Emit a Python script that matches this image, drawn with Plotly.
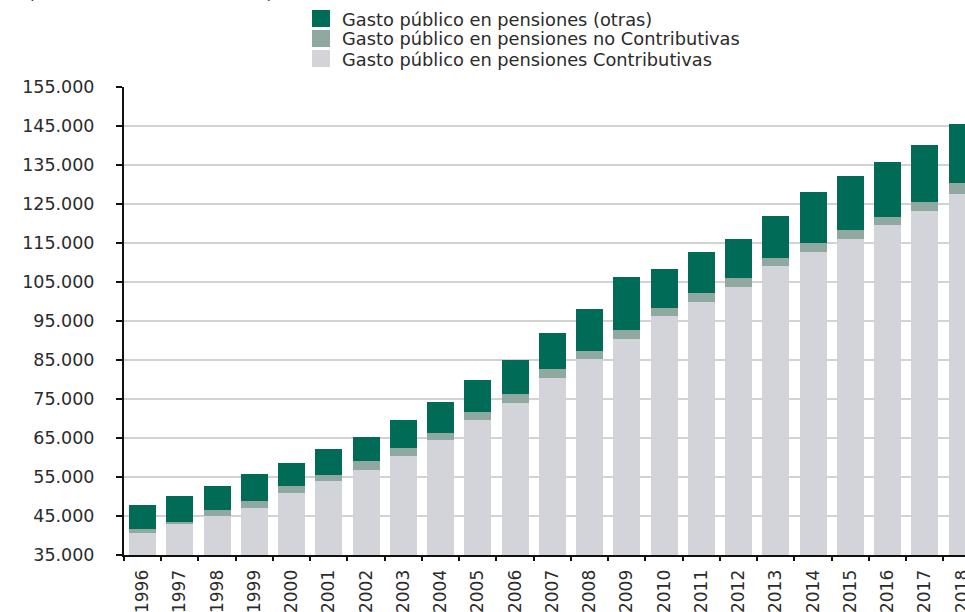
import plotly.graph_objects as go

# ---------------- data ----------------
years = ["1996", "1997", "1998", "1999", "2000", "2001", "2002", "2003", "2004",
         "2005", "2006", "2007", "2008", "2009", "2010", "2011", "2012", "2013",
         "2014", "2015", "2016", "2017", "2018"]

contributivas = [40700, 42900, 45000, 47100, 51000, 54000, 56900, 60300, 64600,
                 69600, 74100, 80300, 85200, 90400, 96200, 100000, 103700, 109000,
                 112600, 115900, 119500, 123200, 127500]
no_contributivas = [850, 600, 1500, 1700, 1600, 1500, 2100, 2100, 1800,
                    2100, 2100, 2300, 2000, 2400, 2100, 2200, 2300, 2200,
                    2300, 2400, 2200, 2400, 3000]
otras = [6350, 6600, 6200, 6900, 6000, 6600, 6200, 7100, 7900,
         8200, 8800, 9300, 11000, 13500, 10100, 10400, 10100, 10700,
         13200, 14000, 14000, 14500, 15100]

series_names = ["Gasto público en pensiones (otras)",
                "Gasto público en pensiones no Contributivas",
                "Gasto público en pensiones Contributivas"]

y_tick_vals = [35000, 45000, 55000, 65000, 75000, 85000, 95000, 105000,
               115000, 125000, 135000, 145000, 155000]
y_tick_text = ["35.000", "45.000", "55.000", "65.000", "75.000", "85.000", "95.000",
               "105.000", "115.000", "125.000", "135.000", "145.000", "155.000"]

subtitle = "(Datos en millones de euros)"

# ---------------- style ----------------
C_DARK = "#006b56"
C_MID = "#8fa8a0"
C_LIGHT = "#d3d4d9"
FONT = "DejaVu Sans"
TXT = "#2b2b2b"

W, H = 965, 612
L, R, T, B = 124, 0, 87, 57
PW, PH = W - L - R, H - T - B


def px(x):
    return (x - L) / PW


def py(y):
    return (H - B - y) / PH


fig = go.Figure()
fig.add_trace(go.Bar(x=years, y=contributivas, name=series_names[2],
                     marker=dict(color=C_LIGHT, line=dict(width=0))))
fig.add_trace(go.Bar(x=years, y=no_contributivas, name=series_names[1],
                     marker=dict(color=C_MID, line=dict(width=0))))
fig.add_trace(go.Bar(x=years, y=otras, name=series_names[0],
                     marker=dict(color=C_DARK, line=dict(width=0))))

# manual legend (large square swatches)
swatch_colors = [C_DARK, C_MID, C_LIGHT]
row_centers = [18.5, 38.5, 58.5]
shapes = []
annotations = []
for name, col, yc in zip(series_names, swatch_colors, row_centers):
    shapes.append(dict(type="rect", xref="paper", yref="paper",
                       x0=px(312), x1=px(330), y0=py(yc + 8.5), y1=py(yc - 8.5),
                       fillcolor=col, line=dict(width=0), layer="above"))
    annotations.append(dict(xref="paper", yref="paper", x=px(340), y=py(yc + 0.5),
                            xanchor="left", yanchor="middle", showarrow=False,
                            text=name, font=dict(family=FONT, size=17.8, color=TXT)))

annotations.append(dict(xref="paper", yref="paper", x=px(26), y=py(5.5),
                        xanchor="left", yanchor="bottom", showarrow=False,
                        text=subtitle, font=dict(family=FONT, size=17, color=TXT)))

fig.update_layout(
    width=W, height=H,
    margin=dict(l=L, r=R, t=T, b=B, pad=0),
    barmode="stack",
    bargap=0.275,
    showlegend=False,
    paper_bgcolor="white",
    plot_bgcolor="white",
    font=dict(family=FONT, size=17, color=TXT),
    shapes=shapes,
    annotations=annotations,
)

fig.update_xaxes(
    type="category",
    range=[-0.5, 22.08],
    showgrid=False,
    showline=True, linecolor="#111111", linewidth=2,
    ticks="outside", tickson="boundaries", ticklen=4, tickwidth=1.5, tickcolor="#111111",
    tickangle=-90,
    tickfont=dict(family=FONT, size=17, color=TXT),
    ticklabelstandoff=6,
    automargin=False,
)

fig.update_yaxes(
    range=[35000, 155000],
    tickmode="array", tickvals=y_tick_vals, ticktext=y_tick_text,
    showgrid=True, gridcolor="#d2d2d2", gridwidth=1.5,
    showline=True, linecolor="#111111", linewidth=2,
    ticks="outside", ticklen=6, tickwidth=1.5, tickcolor="#111111",
    tickfont=dict(family=FONT, size=17.5, color=TXT),
    ticklabelstandoff=18,
    zeroline=False,
    automargin=False,
)

fig.write_html("out.html",
               config={"displayModeBar": False},
               post_script="document.body.style.margin='0px';document.body.style.overflow='hidden';")
